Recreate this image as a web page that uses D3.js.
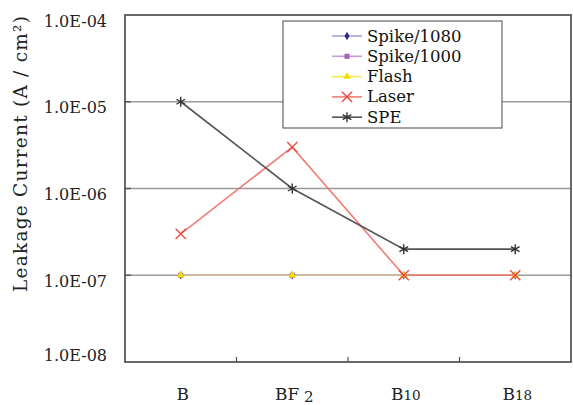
<!DOCTYPE html>
<html>
<head>
<meta charset="utf-8">
<script src="https://cdn.jsdelivr.net/npm/d3@7/dist/d3.min.js"></script>
<style>
  html, body { margin: 0; padding: 0; background: #fff; }
  svg { display: block; font-family: "DejaVu Serif", serif; }
</style>
</head>
<body>
<svg id="chart" width="573" height="405"></svg>
<script>
// ---- data ----
const categories = ["B", "BF2", "B10", "B18"];
const labelMain = ["B", "BF", "B", "B"];
const labelSub = ["", " 2", "10", "18"];
const seriesNames = ["Spike/1080", "Spike/1000", "Flash", "Laser", "SPE"];
const spike1080 = [1e-7, 1e-7, 1e-7, 1e-7];
const spike1000 = [1e-7, 1e-7, 1e-7, 1e-7];
const flash = [1e-7, 1e-7, 1e-7, 1e-7];
const laser = [3e-7, 3e-6, 1e-7, 1e-7];
const spe = [1e-5, 1e-6, 2e-7, 2e-7];
const yTicks = [1e-4, 1e-5, 1e-6, 1e-7, 1e-8];
const yTickLabels = ["1.0E-04", "1.0E-05", "1.0E-06", "1.0E-07", "1.0E-08"];
const gridValues = [1e-5, 1e-6, 1e-7];

const seriesValues = [spike1080, spike1000, flash, laser, spe];
const styles = [
  { line: "#9a98d8", lineOp: 0.9, mark: "#2a2a80", sym: d3.symbolDiamond, size: 22, fill: true },
  { line: "#c490d6", lineOp: 0.9, mark: "#a860b8", sym: d3.symbolSquare, size: 26, fill: true },
  { line: "#f0ea40", lineOp: 0.45, mark: "#f2e000", sym: d3.symbolTriangle, size: 26, fill: true },
  { line: "#ee7068", lineOp: 0.9, mark: "#ee4a40", sym: d3.symbolTimes, size: 70, fill: false },
  { line: "#555555", lineOp: 1, mark: "#333333", sym: d3.symbolAsterisk, size: 70, fill: false }
];

const svg = d3.select("#chart");
const L = 125, R = 571, T = 15, B = 362;

const x = d3.scaleBand().domain(categories).range([L, R]);
const y = d3.scaleLog().domain([1e-8, 1e-4]).range([B, T]);
const cx = c => x(c) + x.bandwidth() / 2;

// gridlines
svg.append("g").selectAll("line").data(gridValues).join("line")
  .attr("x1", L).attr("x2", R)
  .attr("y1", d => y(d)).attr("y2", d => y(d))
  .attr("stroke", "#9a9a9a").attr("stroke-width", 1.4);
// small inner ticks on y
svg.append("g").selectAll("line").data(gridValues).join("line")
  .attr("x1", L).attr("x2", L + 6)
  .attr("y1", d => y(d)).attr("y2", d => y(d))
  .attr("stroke", "#555").attr("stroke-width", 1.4);
// x inner ticks at band boundaries
svg.append("g").selectAll("line").data(categories.slice(1)).join("line")
  .attr("x1", d => x(d)).attr("x2", d => x(d))
  .attr("y1", B).attr("y2", B - 5)
  .attr("stroke", "#555").attr("stroke-width", 1.2);

// frame
svg.append("rect").attr("x", L).attr("y", T).attr("width", R - L).attr("height", B - T)
  .attr("fill", "none").attr("stroke", "#444").attr("stroke-width", 1.6);

// series lines + markers
const lineGen = d3.line().x((d, i) => cx(categories[i])).y(d => y(d));
seriesValues.forEach((vals, si) => {
  const st = styles[si];
  svg.append("path").datum(vals).attr("d", lineGen)
    .attr("fill", "none").attr("stroke", st.line).attr("stroke-opacity", st.lineOp)
    .attr("stroke-width", 1.6);
});
seriesValues.forEach((vals, si) => {
  const st = styles[si];
  svg.append("g").selectAll("path").data(vals).join("path")
    .attr("transform", (d, i) => `translate(${cx(categories[i])},${y(d)})`)
    .attr("d", d3.symbol().type(st.sym).size(st.size))
    .attr("fill", st.fill ? st.mark : "none")
    .attr("stroke", st.fill ? "none" : st.mark)
    .attr("stroke-width", 1.4);
});

// y tick labels
svg.append("g").selectAll("text").data(yTicks).join("text")
  .attr("x", 107)
  .attr("y", (d, i) => y(d) + (d === 1e-8 ? -7 : 6))
  .attr("text-anchor", "end").attr("dominant-baseline", "central")
  .attr("font-size", 16).attr("fill", "#222")
  .text((d, i) => yTickLabels[i]);

// x labels
const xl = svg.append("g").selectAll("text").data(categories).join("text")
  .attr("x", d => cx(d) + 2)
  .attr("y", 400)
  .attr("text-anchor", "middle")
  .attr("font-size", 17).attr("fill", "#222");
xl.append("tspan").text((d, i) => labelMain[i]);
xl.append("tspan")
  .attr("font-size", (d, i) => i === 1 ? 15 : 13.5)
  .attr("dy", (d, i) => i === 1 ? 2 : 0)
  .text((d, i) => labelSub[i]);

// y title
svg.append("text")
  .attr("transform", "translate(27,154) rotate(-90)")
  .attr("text-anchor", "middle")
  .attr("font-size", 18.5).attr("fill", "#222")
  .attr("textLength", 276).attr("lengthAdjust", "spacing")
  .text("Leakage Current (A / cm²)");

// legend
const lg = svg.append("g");
lg.append("rect").attr("x", 283).attr("y", 21).attr("width", 219).attr("height", 107)
  .attr("fill", "#fff").attr("stroke", "#666").attr("stroke-width", 1.2);
const rows = lg.selectAll("g").data(seriesNames).join("g")
  .attr("transform", (d, i) => `translate(0,${36 + i * 20.3})`);
rows.append("line").attr("x1", 332).attr("x2", 362).attr("y1", 0).attr("y2", 0)
  .attr("stroke", (d, i) => styles[i].line).attr("stroke-width", 1.6)
  .attr("stroke-opacity", (d, i) => i === 2 ? 0.9 : styles[i].lineOp);
rows.append("path").attr("transform", "translate(347,0)")
  .attr("d", (d, i) => d3.symbol().type(styles[i].sym).size(styles[i].size)())
  .attr("fill", (d, i) => styles[i].fill ? styles[i].mark : "none")
  .attr("stroke", (d, i) => styles[i].fill ? "none" : styles[i].mark)
  .attr("stroke-width", 1.4);
rows.append("text").attr("x", 367).attr("y", 0).attr("dominant-baseline", "central")
  .attr("font-size", 16.5).attr("fill", "#111").text(d => d);
</script>
</body>
</html>
